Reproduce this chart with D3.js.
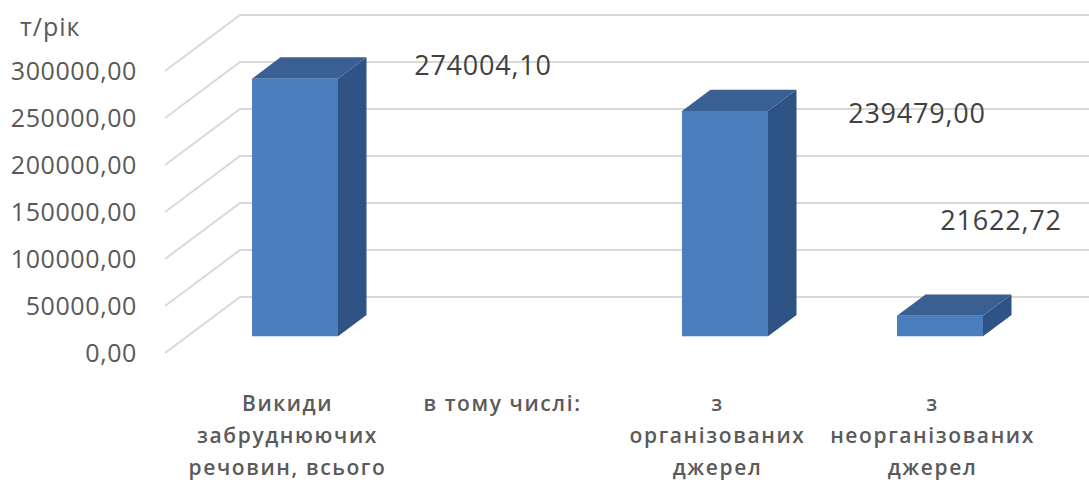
<!DOCTYPE html>
<html>
<head>
<meta charset="utf-8">
<script src="https://cdn.jsdelivr.net/npm/d3@7"></script>
<style>
  body { margin: 0; background: #fff; }
  svg { display: block; font-family: "Open Sans", sans-serif; }
</style>
</head>
<body>
<div id="chart"></div>
<script>
// categories (each one split into lines for the axis)
var categories = ["Викиди забруднюючих речовин, всього", "в тому числі:", "з організованих джерел", "з неорганізованих джерел"];
var categoryLines = [
  ["Викиди", "забруднюючих", "речовин, всього"],
  ["в тому числі:"],
  ["з", "організованих", "джерел"],
  ["з", "неорганізованих", "джерел"]
];
var values = [274004.10, null, 239479.00, 21622.72];
var valueLabels = ["274004,10", "", "239479,00", "21622,72"];
var tickValues = [0, 50000, 100000, 150000, 200000, 250000, 300000];
var tickLabels = ["0,00", "50000,00", "100000,00", "150000,00", "200000,00", "250000,00", "300000,00"];
var unitLabel = "т/рік";

var width = 1089, height = 486;

var svg = d3.select("#chart").append("svg")
  .attr("width", width)
  .attr("height", height);

// scales live on the back wall, depth moves things down-left
var x = d3.scaleBand().domain(categories).range([240, 1100]).padding(0);
var y = d3.scaleLinear().domain([0, 300000]).range([297, 15]);
var depthX = -75, depthY = 56;
function pt(xb, yb, t) { return [xb + depthX * t, yb + depthY * t]; }

// gridlines: side wall diagonal + back wall horizontal
var grid = svg.append("g");
tickValues.forEach(function(v) {
  var a = pt(240, y(v), 1);
  grid.append("path")
    .attr("d", "M" + a[0] + "," + a[1] + "L240," + y(v) + "L" + width + "," + y(v))
    .attr("fill", "none")
    .attr("stroke", "#d9d9d9")
    .attr("stroke-width", 2);
});

// tick labels on the front plane
svg.append("g").selectAll("text")
  .data(tickValues)
  .join("text")
  .attr("x", 137)
  .attr("y", function(d) { return pt(240, y(d), 1)[1]; })
  .attr("dy", "0.35em")
  .attr("text-anchor", "end")
  .attr("font-size", 25)
  .attr("letter-spacing", 0.6)
  .attr("fill", "#595959")
  .text(function(d, i) { return tickLabels[i]; });

svg.append("text")
  .attr("x", 20)
  .attr("y", 27)
  .attr("dy", "0.35em")
  .attr("font-size", 25)
  .attr("letter-spacing", 1)
  .attr("fill", "#595959")
  .text(unitLabel);

// 3d bars
var barW = x.bandwidth() * 0.4;
var tFront = 0.70, tBack = 0.32;
var bars = svg.append("g");
categories.forEach(function(c, i) {
  if (values[i] == null) return;
  var x0 = x(c) + x.bandwidth() / 2 - barW / 2, x1 = x0 + barW;
  var yt = y(values[i]), yb = y(0);
  var fTL = pt(x0, yt, tFront), fTR = pt(x1, yt, tFront), fBR = pt(x1, yb, tFront), fBL = pt(x0, yb, tFront);
  var bTL = pt(x0, yt, tBack), bTR = pt(x1, yt, tBack), bBR = pt(x1, yb, tBack);
  var poly = function(p) { return "M" + p.map(function(q) { return q.join(","); }).join("L") + "Z"; };
  // side
  bars.append("path").attr("d", poly([fTR, bTR, bBR, fBR])).attr("fill", "#2f5384");
  // top
  bars.append("path").attr("d", poly([fTL, bTL, bTR, fTR])).attr("fill", "#395f93");
  // front
  bars.append("path").attr("d", poly([fTL, fTR, fBR, fBL])).attr("fill", "#4a7ebd");
});

// value labels, nudged where the original put them
var labelShift = [[145, -13], [0, 0], [149, 2], [18, -95]];
svg.append("g").selectAll("text")
  .data(categories)
  .join("text")
  .attr("x", function(c, i) { return pt(x(c) + x.bandwidth() / 2 + barW / 2, 0, tFront)[0] + labelShift[i][0]; })
  .attr("y", function(c, i) { return values[i] == null ? 0 : pt(0, y(values[i]), tFront)[1] + labelShift[i][1]; })
  .attr("dy", "0.35em")
  .attr("text-anchor", "middle")
  .attr("font-size", 27)
  .attr("letter-spacing", 0.8)
  .attr("fill", "#404040")
  .text(function(c, i) { return valueLabels[i]; });

// category labels
var cat = svg.append("g");
categories.forEach(function(c, i) {
  var cx = x(c) + x.bandwidth() / 2 - 60;
  categoryLines[i].forEach(function(line, j) {
    cat.append("text")
      .attr("x", cx)
      .attr("y", 404 + j * 32)
      .attr("dy", "0.35em")
      .attr("text-anchor", "middle")
      .attr("font-size", 21)
      .attr("font-weight", 600)
      .attr("letter-spacing", 1.6)
      .attr("fill", "#5a5a5a")
      .text(line);
  });
});
</script>
</body>
</html>
